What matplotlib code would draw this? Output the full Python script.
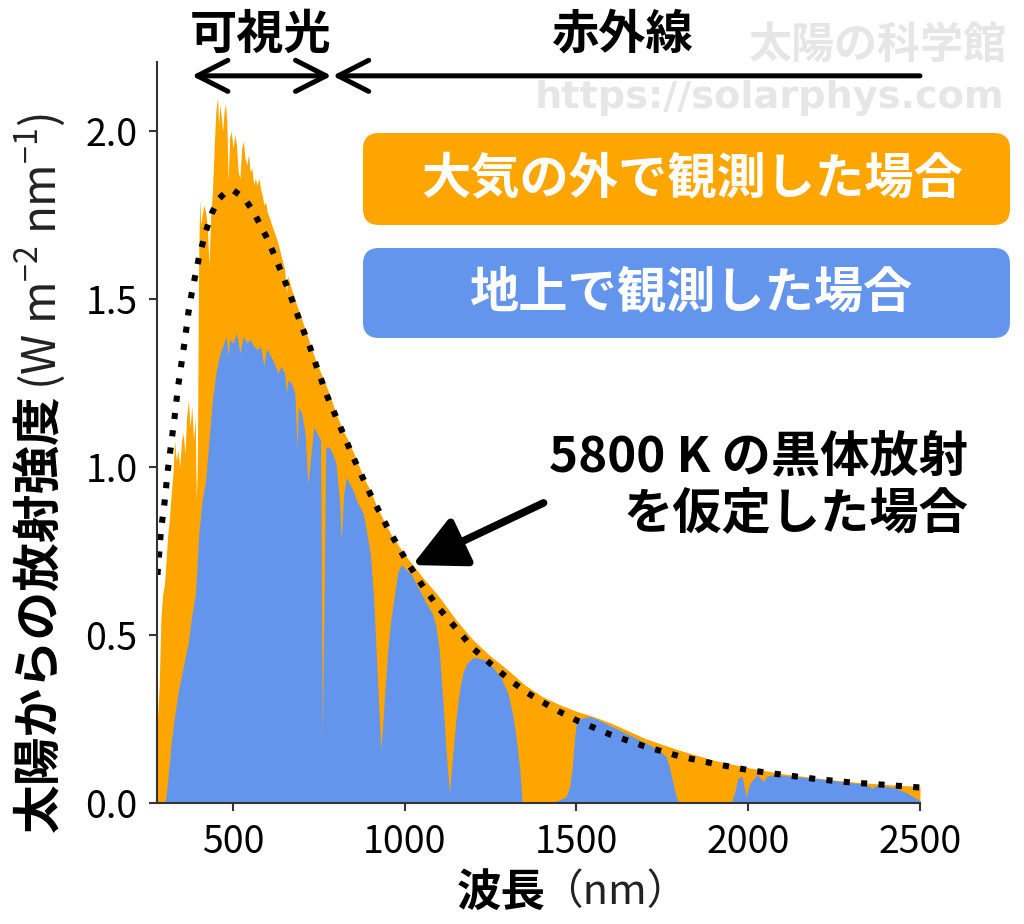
import matplotlib
matplotlib.use("Agg")
import matplotlib.pyplot as plt
from matplotlib.patches import FancyBboxPatch
from matplotlib.transforms import IdentityTransform

plt.rcParams['font.family'] = ['Noto Sans CJK JP', 'DejaVu Sans']

# ---- data ----
# Extraterrestrial spectrum (orange)
etr_wl = [280, 285, 290, 295, 300, 305, 310, 315, 320, 325, 330, 335, 340, 345, 350, 355,
          360, 365, 370, 375, 380, 385, 390, 393, 396, 400, 403, 406, 410, 415, 420, 425,
          430, 435, 440, 445, 450, 455, 458, 462, 466, 470, 474, 478, 482, 486, 490, 495,
          500, 505, 510, 515, 520, 525, 530, 535, 540, 545, 550, 555, 560, 565, 570, 575,
          580, 585, 590, 595, 600, 610, 620, 630, 640, 650, 656, 660, 670, 680, 690, 700,
          720, 740, 760, 780, 800, 820, 840, 860, 880, 900, 920, 940, 960, 980, 1000,
          1050, 1100, 1150, 1200, 1250, 1300, 1350, 1400, 1450, 1500, 1550, 1600, 1650,
          1700, 1750, 1800, 1850, 1900, 1950, 2000, 2100, 2200, 2300, 2400, 2500]
etr_val = [0.25, 0.35, 0.55, 0.62, 0.65, 0.72, 0.80, 0.85, 0.92, 0.98, 1.08, 1.02, 1.05, 1.00,
           1.08, 1.10, 1.04, 1.15, 1.20, 1.12, 1.18, 1.08, 1.15, 0.90, 1.00, 1.62, 1.80, 1.72,
           1.75, 1.78, 1.76, 1.72, 1.60, 1.75, 1.82, 1.95, 2.06, 2.10, 2.02, 2.08, 2.04, 2.00,
           2.06, 2.08, 2.03, 1.85, 1.98, 2.00, 1.95, 1.99, 1.96, 1.88, 1.86, 1.95, 1.97, 1.92,
           1.90, 1.93, 1.88, 1.89, 1.84, 1.86, 1.84, 1.86, 1.83, 1.81, 1.78, 1.79, 1.76, 1.73,
           1.70, 1.67, 1.63, 1.59, 1.52, 1.57, 1.53, 1.50, 1.47, 1.44, 1.38, 1.32, 1.27, 1.22,
           1.16, 1.11, 1.07, 1.02, 0.97, 0.93, 0.88, 0.84, 0.80, 0.77, 0.74, 0.675, 0.615,
           0.545, 0.485, 0.438, 0.397, 0.352, 0.318, 0.294, 0.274, 0.258, 0.239, 0.216, 0.193,
           0.175, 0.158, 0.143, 0.128, 0.117, 0.106, 0.088, 0.075, 0.064, 0.056, 0.050]

# Ground-level spectrum (blue)
gnd_wl = [280, 300, 305, 310, 320, 330, 340, 350, 360, 370, 380, 390, 395, 400, 410, 420,
          430, 440, 450, 460, 470, 480, 486, 490, 500, 510, 520, 530, 540, 550, 560, 570,
          580, 590, 595, 600, 610, 620, 630, 640, 650, 656, 660, 670, 680, 687, 690, 700,
          710, 718, 725, 735, 745, 755, 760, 765, 770, 780, 790, 800, 810, 815, 822, 830,
          840, 850, 860, 870, 880, 890, 900, 910, 920, 930, 935, 940, 950, 960, 970, 980,
          990, 1000, 1020, 1040, 1060, 1080, 1090, 1100, 1110, 1120, 1130, 1140, 1150, 1160,
          1170, 1180, 1200, 1220, 1240, 1260, 1280, 1290, 1300, 1315, 1325, 1335, 1342,
          1350, 1420, 1450, 1470, 1480, 1487, 1495, 1500, 1520, 1540, 1560, 1580, 1600,
          1620, 1650, 1680, 1700, 1720, 1740, 1760, 1770, 1780, 1790, 1800, 1950, 1960,
          1970, 1982, 1994, 2005, 2025, 2045, 2055, 2090, 2135, 2185, 2230, 2280, 2330,
          2350, 2360, 2375, 2400, 2420, 2440, 2460, 2480, 2500]
gnd_val = [0.0, 0.0, 0.02, 0.07, 0.18, 0.26, 0.33, 0.38, 0.43, 0.48, 0.56, 0.62, 0.70, 0.80,
           0.90, 0.96, 1.08, 1.20, 1.28, 1.33, 1.36, 1.39, 1.33, 1.38, 1.37, 1.40, 1.34, 1.39,
           1.37, 1.38, 1.36, 1.35, 1.36, 1.30, 1.34, 1.35, 1.33, 1.31, 1.28, 1.30, 1.28, 1.22,
           1.26, 1.25, 1.22, 1.05, 1.18, 1.16, 1.10, 0.95, 1.02, 1.12, 1.10, 1.08, 0.20, 0.60,
           1.06, 1.06, 1.04, 1.01, 0.90, 0.78, 0.92, 0.97, 0.95, 0.93, 0.90, 0.88, 0.86, 0.80,
           0.74, 0.60, 0.38, 0.16, 0.22, 0.30, 0.45, 0.55, 0.62, 0.69, 0.71, 0.70, 0.68, 0.64,
           0.60, 0.565, 0.53, 0.46, 0.32, 0.16, 0.03, 0.15, 0.26, 0.34, 0.39, 0.415, 0.435,
           0.43, 0.425, 0.40, 0.375, 0.35, 0.33, 0.26, 0.19, 0.10, 0.0, 0.0, 0.0, 0.01, 0.02,
           0.05, 0.10, 0.20, 0.245, 0.255, 0.258, 0.25, 0.24, 0.23, 0.22, 0.205, 0.19, 0.18,
           0.17, 0.158, 0.14, 0.11, 0.065, 0.02, 0.0, 0.0, 0.03, 0.075, 0.08, 0.02, 0.06,
           0.085, 0.065, 0.082, 0.084, 0.08, 0.075, 0.07, 0.063, 0.058, 0.052, 0.045, 0.053,
           0.05, 0.048, 0.04, 0.032, 0.02, 0.008]

# 5800 K blackbody (dotted)
bb_wl = [280, 290, 300, 310, 320, 330, 340, 350, 360, 370, 380, 390, 400, 420, 440, 460,
         480, 500, 520, 540, 560, 580, 600, 625, 650, 675, 700, 725, 750, 775, 800, 850,
         900, 950, 1000, 1050, 1100, 1150, 1200, 1250, 1300, 1350, 1400, 1450, 1500, 1600,
         1700, 1800, 1900, 2000, 2100, 2200, 2300, 2400, 2500]
bb_val = [0.68, 0.81, 0.89, 0.99, 1.07, 1.15, 1.24, 1.31, 1.38, 1.46, 1.52, 1.57, 1.62,
          1.70, 1.76, 1.80, 1.82, 1.825, 1.81, 1.79, 1.76, 1.72, 1.68, 1.62, 1.557, 1.49,
          1.42, 1.355, 1.28, 1.21, 1.15, 1.03, 0.92, 0.82, 0.73, 0.65, 0.58, 0.52, 0.46,
          0.415, 0.372, 0.333, 0.302, 0.273, 0.247, 0.204, 0.169, 0.140, 0.118, 0.099,
          0.085, 0.072, 0.062, 0.055, 0.047]

x_ticks = [500, 1000, 1500, 2000, 2500]
y_ticks = [0.0, 0.5, 1.0, 1.5, 2.0]
visible_range = (380, 787)
infrared_range = (790, 2500)

ORANGE = '#FFA500'
BLUE = '#6495ED'

fig = plt.figure(figsize=(10.24, 9.24), dpi=100)
ax = fig.add_axes([0.1533, 0.1306, 0.7451, 0.8026])

ax.fill_between(etr_wl, etr_val, 0, color=ORANGE, lw=0, zorder=1)
ax.fill_between(gnd_wl, gnd_val, 0, color=BLUE, lw=0, zorder=2)
ax.plot(bb_wl, bb_val, color='black', lw=4.4, linestyle=(0, (1, 1.85)), zorder=3)

ax.set_xlim(278.6, 2500)
ax.set_ylim(0, 2.207)
ax.set_xticks(x_ticks)
ax.set_yticks(y_ticks)
ax.set_yticklabels([f'{v:.1f}' for v in y_ticks])
ax.tick_params(labelsize=27, length=6, width=1.5, color='#333333', pad=8)
for s in ['top', 'right']:
    ax.spines[s].set_visible(False)
for s in ['left', 'bottom']:
    ax.spines[s].set_linewidth(1.5)
    ax.spines[s].set_color('#333333')
    ax.spines[s].set_zorder(5)

# Range arrows at top
ya = 2.165
ax.annotate('', xy=(visible_range[0], ya), xytext=(visible_range[1], ya),
            arrowprops=dict(arrowstyle='<->,head_length=1.1,head_width=0.56', lw=3.6,
                            color='black', shrinkA=0, shrinkB=0, mutation_scale=20),
            annotation_clip=False)
ax.annotate('', xy=(infrared_range[0], ya), xytext=(infrared_range[1], ya),
            arrowprops=dict(arrowstyle='->,head_length=1.1,head_width=0.56', lw=3.6,
                            color='black', shrinkA=0, shrinkB=0, mutation_scale=20),
            annotation_clip=False)

fig.text(261 / 1024, 1 - 35 / 924, '可視光', fontsize=34, fontweight='bold',
         ha='center', va='center')
fig.text(622 / 1024, 1 - 35 / 924, '赤外線', fontsize=34, fontweight='bold',
         ha='center', va='center')

# watermark
fig.text(877 / 1024, 1 - 45 / 924, '太陽の科学館', fontsize=31, fontweight='bold',
         color='#e6e6e6', ha='center', va='center')
fig.text(770 / 1024, 1 - 98 / 924, 'https://solarphys.com', fontsize=27.5, fontweight='bold',
         color='#e6e6e6', ha='center', va='center', family='DejaVu Sans')

# legend-like boxes
for (y0, y1, col, txt) in [(133, 225, ORANGE, '大気の外で観測した場合'),
                           (248, 338, BLUE, '地上で観測した場合')]:
    box = FancyBboxPatch((363, 924 - y1), 1010 - 363, y1 - y0,
                         boxstyle='round,pad=0,rounding_size=16',
                         transform=IdentityTransform(), facecolor=col, edgecolor='none')
    fig.add_artist(box)
    fig.text(692 / 1024, 1 - ((y0 + y1) / 2) / 924, txt, fontsize=35.5, fontweight='bold',
             color='white', ha='center', va='center')

# blackbody annotation
fig.text(968 / 1024, 1 - 458 / 924, '5800 K の黒体放射', fontsize=35.5, fontweight='bold',
         ha='right', va='center')
fig.text(968 / 1024, 1 - 515 / 924, 'を仮定した場合', fontsize=35.5, fontweight='bold',
         ha='right', va='center')
ax.annotate('', xy=(1022, 0.709), xytext=(1404, 0.894),
            arrowprops=dict(arrowstyle='-|>,head_length=1.0,head_width=0.5', lw=5.5,
                            color='black', shrinkA=0, shrinkB=0, mutation_scale=32),
            zorder=6)

# axis labels
fig.text(40 / 1024, 1 - 832 / 924, '太陽からの放射強度', fontsize=35, fontweight='bold',
         rotation=90, ha='center', va='bottom')
fig.text(40 / 1024, 1 - 390 / 924, r'(W m$^{\mathregular{-2}}$ nm$^{\mathregular{-1}}$)',
         fontsize=33, rotation=90, ha='center', va='bottom', color='#222222')
fig.text(546 / 1024, 1 - 893 / 924, '波長', fontsize=32, fontweight='bold',
         ha='right', va='center')
fig.text(541 / 1024, 1 - 893 / 924, '（nm）', fontsize=30, ha='left', va='center',
         color='#222222')

fig.savefig('out.png', dpi=100)
